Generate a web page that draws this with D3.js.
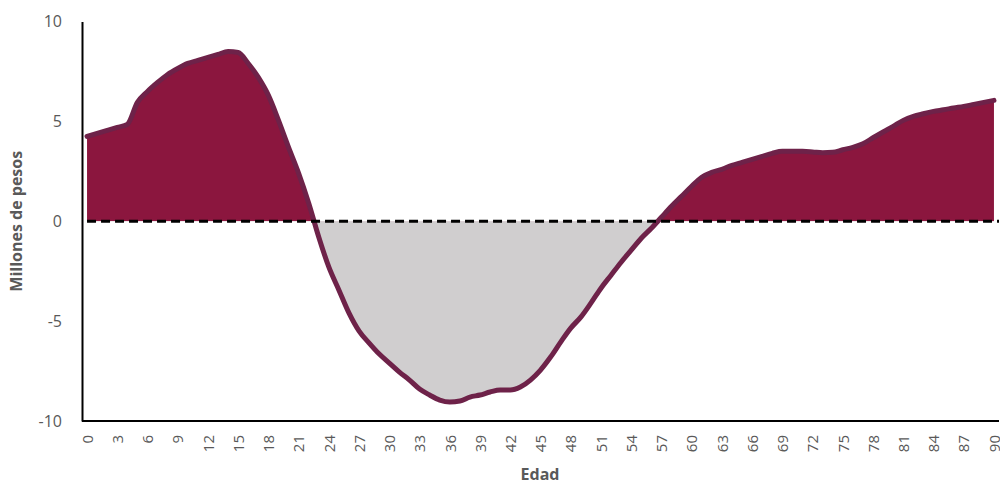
<!DOCTYPE html>
<html><head><meta charset="utf-8">
<script src="https://cdn.jsdelivr.net/npm/d3@7"></script>
<style>body{margin:0;background:#fff}svg{display:block}text{font-family:"Open Sans",sans-serif}</style>
</head><body><svg id="c" width="1000" height="484"></svg>
<script>
const ages = d3.range(0, 91);
const values = [4.25,4.4,4.55,4.7,4.85,5.95,6.5,6.95,7.35,7.65,
7.9,8.05,8.2,8.35,8.5,8.45,7.9,7.2,6.3,5.05,
3.7,2.4,0.9,-0.8,-2.3,-3.45,-4.6,-5.5,-6.1,-6.65,
-7.1,-7.55,-7.95,-8.4,-8.7,-8.95,-9.05,-9.0,-8.8,-8.7,
-8.55,-8.45,-8.45,-8.3,-7.95,-7.45,-6.8,-6.05,-5.35,-4.8,
-4.1,-3.35,-2.7,-2.05,-1.45,-0.85,-0.35,0.2,0.75,1.25,
1.75,2.2,2.45,2.6,2.8,2.95,3.1,3.25,3.4,3.5,
3.5,3.5,3.47,3.43,3.45,3.58,3.7,3.88,4.18,4.47,
4.75,5.05,5.25,5.38,5.5,5.58,5.67,5.75,5.85,5.95,6.05];
const yTicks = [-10,-5,0,5,10];
const xTickAges = d3.range(0, 91, 3);

const svg = d3.select("#c");
const mLeft = 82, mRight = 999, mTop = 21.5, mBottom = 421;
const x = d3.scalePoint().domain(ages).range([mLeft, mRight]).padding(0.5);
const y = d3.scaleLinear().domain([-10, 10]).range([mBottom, mTop]);
const data = ages.map((a, i) => ({a, v: values[i]}));

const defs = svg.append("defs");
defs.append("clipPath").attr("id","pos").append("rect")
  .attr("x", 0).attr("y", 0).attr("width", 1000).attr("height", y(0));
defs.append("clipPath").attr("id","neg").append("rect")
  .attr("x", 0).attr("y", y(0)).attr("width", 1000).attr("height", 484 - y(0));

const area = d3.area().x(d => x(d.a)).y0(y(0)).y1(d => y(d.v)).curve(d3.curveMonotoneX);
svg.append("path").datum(data).attr("d", area).attr("fill", "#8B163E").attr("clip-path","url(#pos)");
svg.append("path").datum(data).attr("d", area).attr("fill", "#D0CECF").attr("clip-path","url(#neg)");

const line = d3.line().x(d => x(d.a)).y(d => y(d.v)).curve(d3.curveMonotoneX);
svg.append("path").datum(data).attr("d", line).attr("fill","none")
  .attr("stroke","#6E2249").attr("stroke-width",5).attr("stroke-linejoin","round").attr("stroke-linecap","round");

// zero dashed line
svg.append("line").attr("x1", x(0)).attr("x2", mRight).attr("y1", y(0)).attr("y2", y(0))
  .attr("stroke","#000").attr("stroke-width",3).attr("stroke-dasharray","9,5");

// y axis
const yAxis = d3.axisLeft(y).tickValues(yTicks).tickSize(0).tickPadding(20).tickFormat(d => String(d));
const ga = svg.append("g").attr("transform", `translate(${mLeft},0)`).call(yAxis);
ga.select(".domain").attr("stroke","#000").attr("stroke-width",2);
ga.selectAll("text").attr("font-size",16).attr("fill","#595959").attr("font-family","Open Sans");

// x axis
const xAxis = d3.axisBottom(x).tickValues(xTickAges).tickSize(0).tickPadding(0);
const gx = svg.append("g").attr("transform", `translate(0,${mBottom})`).call(xAxis);
gx.select(".domain").attr("stroke","#000").attr("stroke-width",2).attr("d", `M${mLeft},0H${mRight}`);
gx.selectAll("text").attr("font-size",15).attr("fill","#595959").attr("font-family","Open Sans")
  .attr("transform","rotate(-90)").attr("text-anchor","end").attr("dy","0.35em").attr("x",-14).attr("y",0);

svg.append("text").attr("transform",`translate(22,${y(0)}) rotate(-90)`).attr("text-anchor","middle")
  .attr("font-size",16).attr("font-weight","bold").attr("fill","#595959").text("Millones de pesos");
svg.append("text").attr("x", 540).attr("y", 480).attr("text-anchor","middle")
  .attr("font-size",16).attr("font-weight","bold").attr("fill","#595959").text("Edad");
</script></body></html>
